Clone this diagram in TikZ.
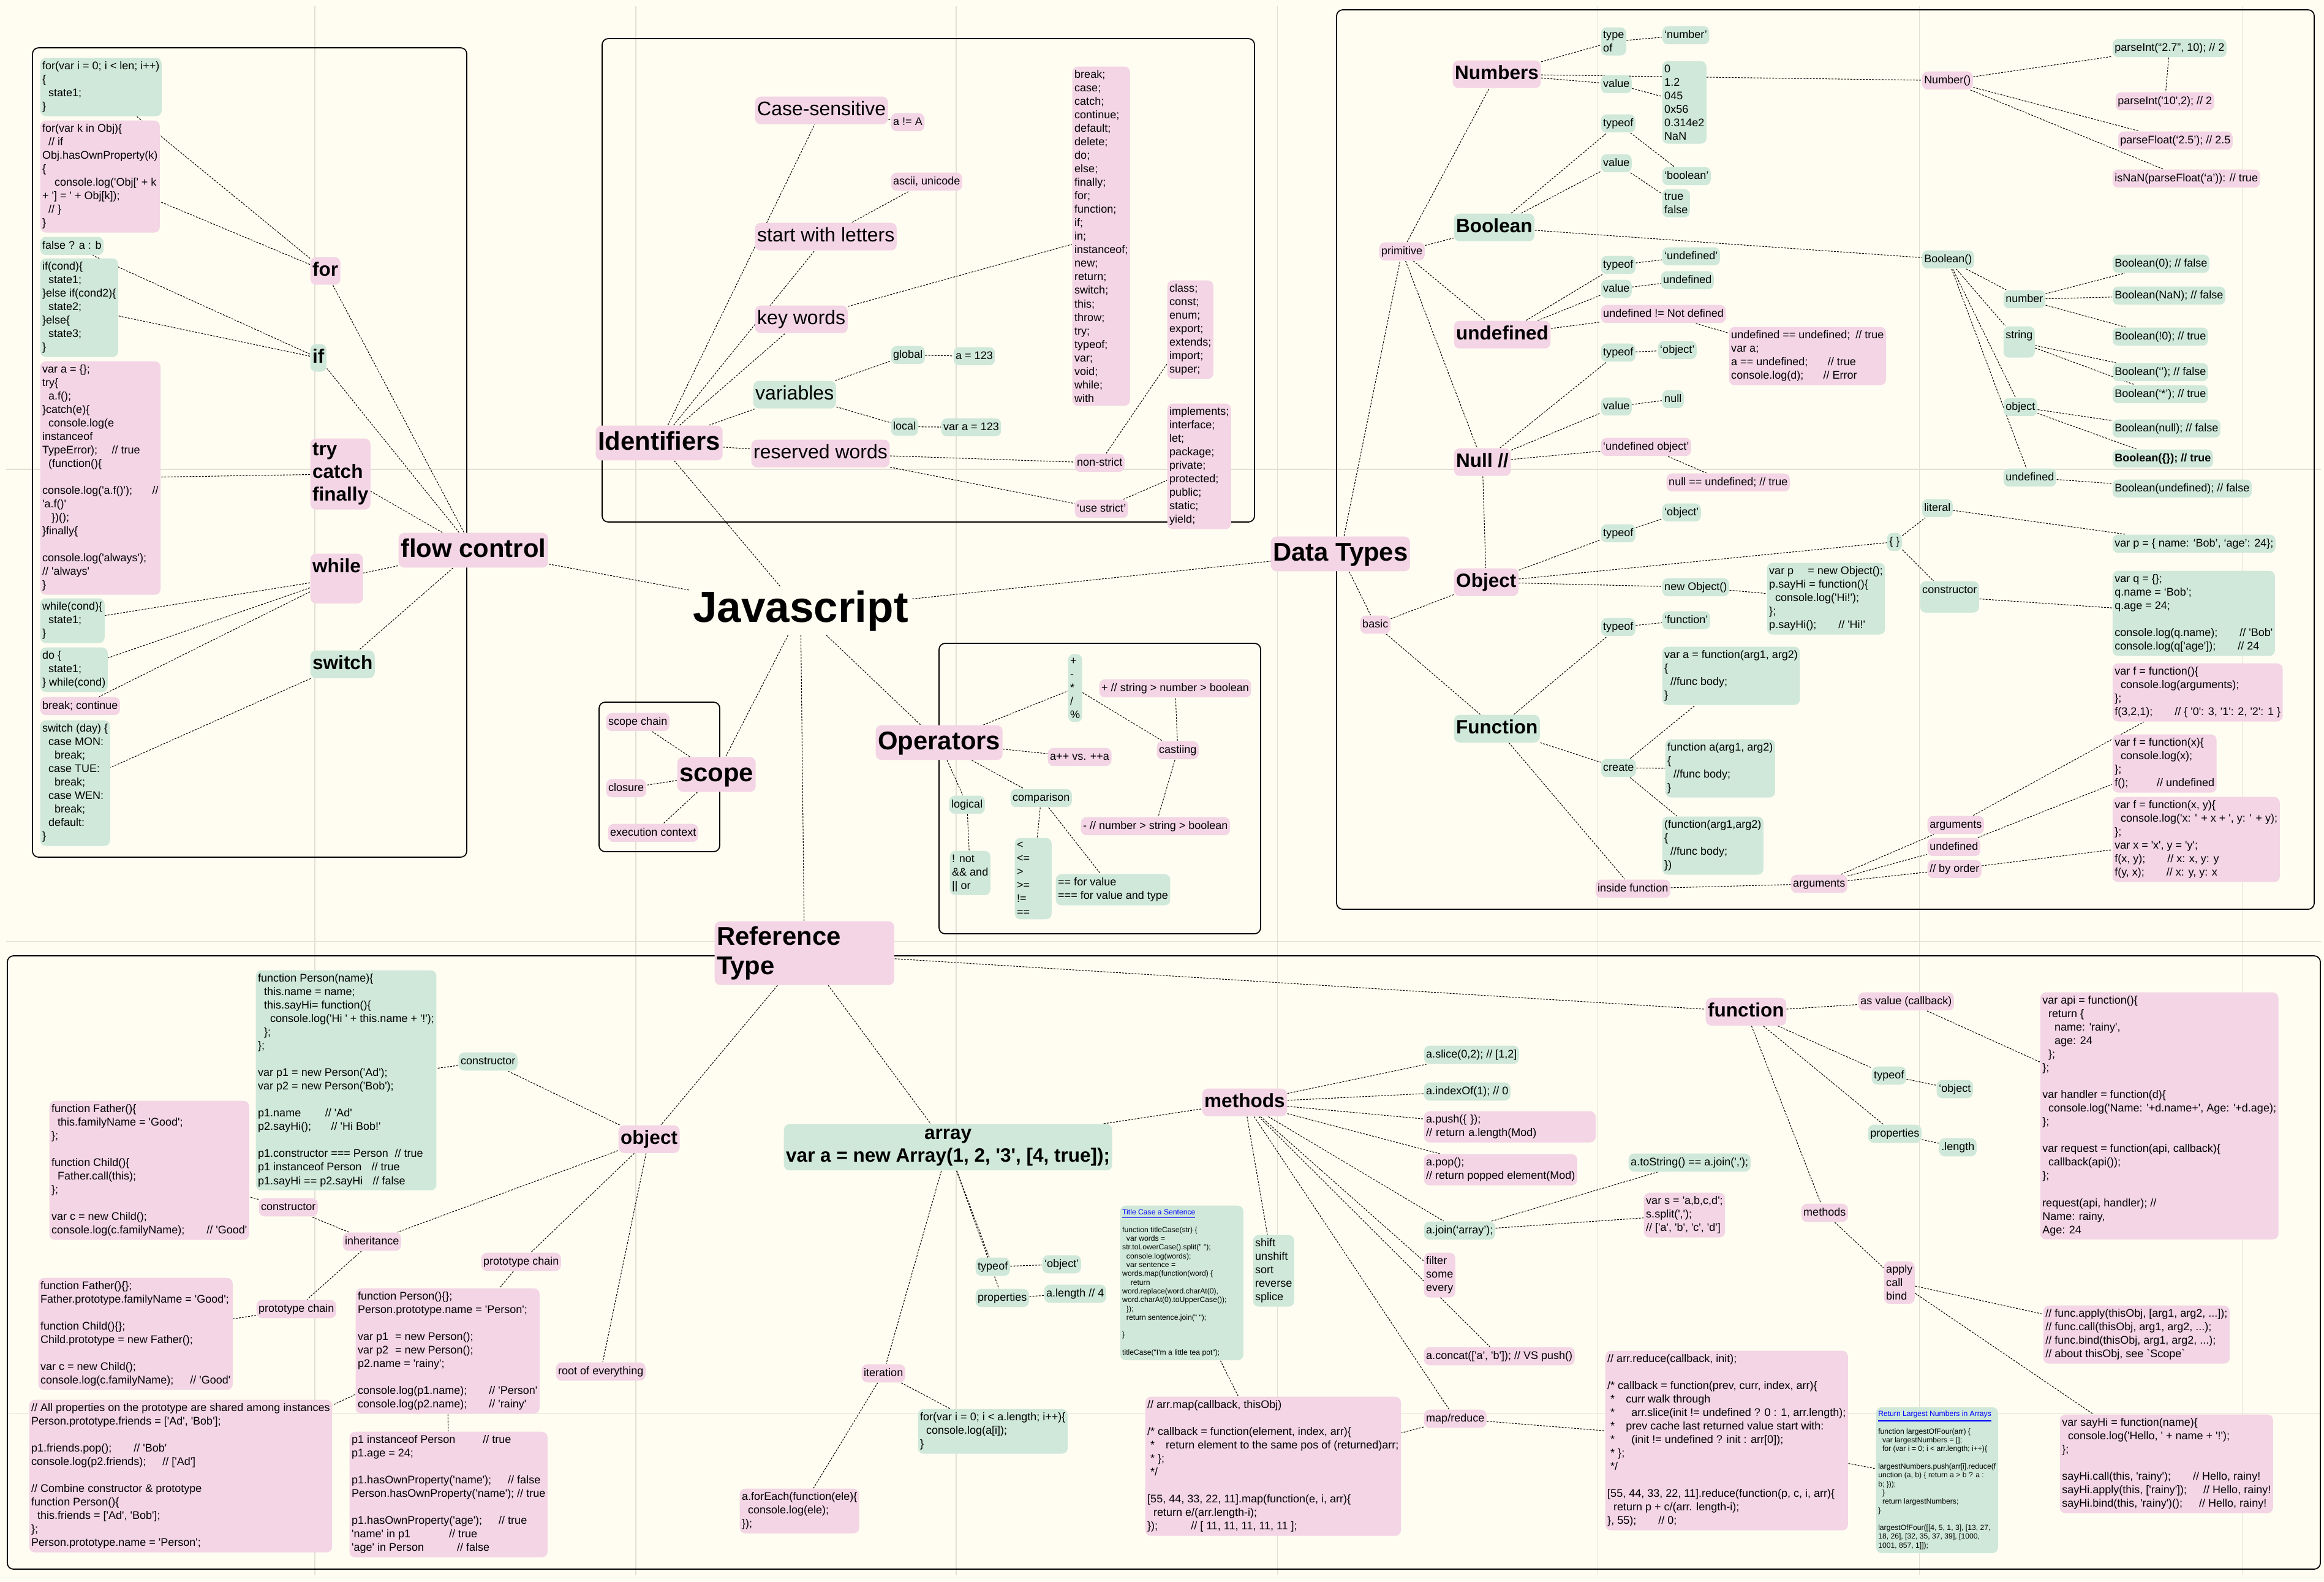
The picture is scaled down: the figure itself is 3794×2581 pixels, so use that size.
\documentclass[tikz,border=0pt]{standalone}
\usepackage{fontspec}
\newfontfamily\hv{Liberation Sans}
\definecolor{pinkc}{RGB}{243,213,229}
\definecolor{greenc}{RGB}{207,232,218}
\definecolor{paper}{RGB}{255,253,241}
\definecolor{gridc}{RGB}{226,224,212}
\newcommand\fsm{\hv\fontsize{5.12}{6.26}\selectfont}
\newcommand\fmd{\hv\fontsize{9.1}{10.6}\selectfont}
\newcommand\fhb{\hv\bfseries\fontsize{8.96}{10.5}\selectfont}
\newcommand\ftb{\hv\bfseries\fontsize{11.9}{13.9}\selectfont}
\newcommand\fjs{\hv\bfseries\fontsize{20.2}{24}\selectfont}
\newcommand\ftn{\hv\fontsize{3.46}{4.07}\selectfont}
\newcommand\idt{\hspace*{0.55em}}
\newcommand\gap[1]{\hspace{#1em}}
\newcommand\bl{\mbox{}}
\pgfdeclarelayer{back}
\pgfdeclarelayer{edges}
\pgfsetlayers{back,edges,main}
\tikzset{
  box/.style = {anchor = north west, rounded corners = 0.09cm, inner xsep = 0.035cm, inner ysep = 0.06cm, align = left, font = \fsm},
  pk/.style = {box, fill = pinkc},
  gn/.style = {box, fill = greenc},
  sl/.style = {text height = 0.135cm, text depth = 0.04cm},
  md/.style = {font = \fmd, text height = 0.24cm, text depth = 0.07cm, inner ysep = 0.07cm},
  hb/.style = {font = \fhb, inner ysep = 0.075cm},
  hbl/.style = {hb, text height = 0.236cm, text depth = 0.07cm, inner ysep = 0.072cm},
  tb/.style = {font = \ftb, inner ysep = 0.08cm},
  tbl/.style = {tb, text height = 0.315cm, text depth = 0.09cm},
  tn/.style = {font = \ftn},
  ln/.style = {line width = 0.3pt, dash pattern = on 0.85pt off 0.6pt, black},
  zone/.style = {line width = 0.5pt, rounded corners = 0.1cm}
}
\begin{document}
\begin{tikzpicture}[x = 0.01cm, y = -0.01cm]
\begin{pgfonlayer}{back}
\fill[paper] (0,0) rectangle (3794,2581);
\foreach \gx in {514,1038,1561,2085,2608,3133,3660} \draw[gridc, line width = 0.3pt] (\gx,10) -- (\gx,2571);
\foreach \gy in {766,1536,2306} \draw[gridc, line width = 0.3pt] (10,\gy) -- (3789,\gy);
\end{pgfonlayer}

\node[font = \fjs, inner sep = 0.06cm, anchor = base] (js) at (1307,1015) {Javascript};

\node[pk, tbl] (fc) at (650,869) {flow control};
\node[pk, hbl] (nfor) at (506,419) {for};
\node[gn, hbl] (nif) at (506,561) {if};
\node[pk, hb] (ntry) at (506,715) {try\\catch\\finally};
\node[pk, hbl, text depth = 0.43cm] (nwhile) at (506,903) {while};
\node[gn, hbl] (nswitch) at (506,1061) {switch};
\node[gn] (for1) at (65,94) {for(var i = 0; i < len; i++)\\\{\\\idt state1;\\\}};
\node[pk] (forin) at (65,196) {for(var k in Obj)\{\\\idt // if\\Obj.hasOwnProperty(k)\\\{\\\idt\idt console.log('Obj[' + k\\+ '] = ' + Obj[k]);\\\idt // \}\\\}};
\node[gn, sl] (tern) at (65,386) {false ? a : b};
\node[gn] (ifel) at (65,421) {if(cond)\{\\\idt state1;\\\}else if(cond2)\{\\\idt state2;\\\}else\{\\\idt state3;\\\}};
\node[pk] (tryb) at (65,589) {var a = \{\};\\try\{\\\idt a.f();\\\}catch(e)\{\\\idt console.log(e\\instanceof\\TypeError);\gap{1.3}// true\\\idt (function()\{\\\bl\\console.log('a.f()');\gap{1.8}//\\'a.f()'\\\idt\ \})();\\\}finally\{\\\bl\\console.log('always');\\// 'always'\\\}};
\node[gn] (whileb) at (65,976) {while(cond)\{\\\idt state1;\\\}};
\node[gn] (dowh) at (65,1056) {do \{\\\idt state1;\\\} while(cond)};
\node[pk, sl] (brk) at (65,1137) {break; continue};
\node[gn] (swb) at (65,1175) {switch (day) \{\\\idt case MON:\\\idt\idt break;\\\idt case TUE:\\\idt\idt break;\\\idt case WEN:\\\idt\idt break;\\\idt default:\\\}};

\node[pk, tbl] (idf) at (972,694) {Identifiers};
\node[pk, md] (cs) at (1232,157) {Case-sensitive};
\node[pk, sl] (csa) at (1454,184) {a != A};
\node[pk, md] (swl) at (1232,363) {start with letters};
\node[pk, sl] (asc) at (1454,281) {ascii, unicode};
\node[pk, md] (kw) at (1232,498) {key words};
\node[pk] (kwl) at (1750,108) {break;\\case;\\catch;\\continue;\\default;\\delete;\\do;\\else;\\finally;\\for;\\function;\\if;\\in;\\instanceof;\\new;\\return;\\switch;\\this;\\throw;\\try;\\typeof;\\var;\\void;\\while;\\with};
\node[gn, md] (vars) at (1229,621) {variables};
\node[gn, sl] (glb) at (1454,564) {global};
\node[gn, sl] (glbv) at (1556,566) {a = 123};
\node[gn, sl] (loc) at (1454,681) {local};
\node[gn, sl] (locv) at (1536,682) {var a = 123};
\node[pk, md] (rw) at (1226,717) {reserved words};
\node[pk, sl] (nst) at (1754,740) {non-strict};
\node[pk, sl] (ust) at (1754,815) {‘use strict’};
\node[pk] (rs1) at (1905,457) {class;\\const;\\enum;\\export;\\extends;\\import;\\super;};
\node[pk] (rs2) at (1905,658) {implements;\\interface;\\let;\\package;\\private;\\protected;\\public;\\static;\\yield;};

\node[pk, tbl] (dt) at (2074,875) {Data Types};
\node[pk, sl] (prim) at (2251,395) {primitive};
\node[pk, hbl] (num) at (2371,98) {Numbers};
\node[gn] (ntyp) at (2613,44) {type\\of};
\node[gn, sl] (ntypv) at (2713,42) {‘number’};
\node[gn, sl] (nval) at (2613,122) {value};
\node[gn] (nvals) at (2713,99) {0\\1.2\\045\\0x56\\0.314e2\\NaN};
\node[pk, sl] (numf) at (3137,116) {Number()};
\node[gn, sl] (pi1) at (3448,63) {parseInt(“2.7”, 10); // 2};
\node[pk, sl] (pi2) at (3453,150) {parseInt('10',2); // 2};
\node[pk, sl] (pf) at (3457,214) {parseFloat(‘2.5’); // 2.5};
\node[pk, sl] (isn) at (3448,276) {isNaN(parseFloat(‘a’)): // true};
\node[gn, hbl] (bool) at (2373,348) {Boolean};
\node[gn, sl] (btyp) at (2613,186) {typeof};
\node[gn, sl] (bval) at (2613,251) {value};
\node[gn, sl] (btypv) at (2713,272) {‘boolean’};
\node[gn] (bvals) at (2713,308) {true\\false};
\node[gn, sl] (boolf) at (3137,408) {Boolean()};
\node[gn, sl] (bnum) at (3270,473) {number};
\node[gn, sl, text depth = 0.255cm] (bstr) at (3270,532) {string};
\node[gn, sl] (bobj) at (3270,649) {object};
\node[gn, sl] (bund) at (3270,764) {undefined};
\node[gn, sl] (b0) at (3448,415) {Boolean(0); // false};
\node[gn, sl] (bnan) at (3448,467) {Boolean(NaN); // false};
\node[gn, sl] (bn0) at (3448,534) {Boolean(!0); // true};
\node[gn, sl] (be) at (3448,592) {Boolean(‘’); // false};
\node[gn, sl] (bs) at (3448,628) {Boolean(‘*’); // true};
\node[gn, sl] (bnull) at (3448,684) {Boolean(null); // false};
\node[gn, sl] (bobjv) at (3448,733) {\textbf{Boolean(\{\}); // true}};
\node[gn, sl] (bundv) at (3448,782) {Boolean(undefined); // false};
\node[pk, hbl] (und) at (2373,523) {undefined};
\node[gn, sl] (utyp) at (2613,417) {typeof};
\node[gn, sl] (utypv) at (2713,403) {‘undefined’};
\node[gn, sl] (uval) at (2613,456) {value};
\node[gn, sl] (uvalv) at (2711,442) {undefined};
\node[pk, sl] (und2) at (2613,497) {undefined != Not defined};
\node[pk] (undc) at (2822,533) {undefined == undefined;\gap{0.5}// true\\var a;\\a == undefined;\gap{1.8}// true\\console.log(d);\gap{1.8}// Error};
\node[pk, hbl] (nul) at (2373,731) {Null //};
\node[gn, sl] (ntyp2) at (2613,560) {typeof};
\node[gn, sl] (ntypv2) at (2706,556) {‘object’};
\node[gn, sl] (nval2) at (2613,648) {value};
\node[gn, sl] (nvalv) at (2713,636) {null};
\node[pk, sl] (nuo) at (2613,714) {‘undefined object’};
\node[pk, sl] (nue) at (2720,772) {null == undefined; // true};
\node[pk, hbl] (obj) at (2373,927) {Object};
\node[gn, sl] (otyp) at (2613,855) {typeof};
\node[gn, sl] (otypv) at (2713,821) {‘object’};
\node[gn, sl] (onew) at (2713,943) {new Object()};
\node[gn] (onewb) at (2884,918) {var p\gap{1} = new Object();\\p.sayHi = function()\{\\\idt console.log('Hi!');\\\};\\p.sayHi();\gap{2}// 'Hi!'};
\node[gn, sl] (obr) at (3080,869) {\{ \}};
\node[gn, sl] (olit) at (3137,814) {literal};
\node[gn, sl] (olitb) at (3448,872) {var p = \{ name: ‘Bob’, ‘age’: 24\};};
\node[gn, sl, text depth = 0.255cm] (ocon) at (3134,948) {constructor};
\node[gn] (oconb) at (3448,931) {var q = \{\};\\q.name = ‘Bob’;\\q.age = 24;\\\bl\\console.log(q.name);\gap{2}// 'Bob'\\console.log(q['age']);\gap{2}// 24};
\node[pk, sl] (basic) at (2220,1004) {basic};
\node[gn, hbl] (fun) at (2373,1166) {Function};
\node[gn, sl] (ftyp) at (2613,1008) {typeof};
\node[gn, sl] (ftypv) at (2713,997) {‘function’};
\node[gn, sl] (fcr) at (2613,1238) {create};
\node[gn] (fcr1) at (2713,1055) {var a = function(arg1, arg2)\\\{\\\idt //func body;\\\}};
\node[gn] (fcr2) at (2718,1206) {function a(arg1, arg2)\\\{\\\idt //func body;\\\}};
\node[gn] (fcr3) at (2713,1332) {(function(arg1,arg2)\\\{\\\idt //func body;\\\})};
\node[pk, sl] (fin) at (2604,1435) {inside function};
\node[pk, sl] (farg) at (2923,1427) {arguments};
\node[pk, sl] (fa1) at (3146,1331) {arguments};
\node[pk, sl] (fa2) at (3146,1367) {undefined};
\node[pk, sl] (fa3) at (3146,1403) {// by order};
\node[pk] (fab1) at (3448,1082) {var f = function()\{\\\idt console.log(arguments);\\\};\\f(3,2,1);\gap{2}// \{ '0': 3, '1': 2, '2': 1 \}};
\node[pk] (fab2) at (3448,1198) {var f = function(x)\{\\\idt console.log(x);\\\};\\f();\gap{2.6}// undefined};
\node[pk] (fab3) at (3448,1300) {var f = function(x, y)\{\\\idt console.log('x: ' + x + ', y: ' + y);\\\};\\var x = 'x', y = 'y';\\f(x, y);\gap{2}// x: x, y: y\\f(y, x);\gap{2}// x: y, y: x};

\node[pk, tbl] (scope) at (1105,1235) {scope};
\node[pk, sl] (sch) at (989,1163) {scope chain};
\node[pk, sl] (clo) at (989,1271) {closure};
\node[pk, sl] (exc) at (992,1344) {execution context};

\node[pk, tbl] (ops) at (1429,1183) {Operators};
\node[gn] (opl) at (1743,1067) {+\\-\\{}*\\/\\\%};
\node[pk, sl] (opstr) at (1794,1108) {+ // string > number > boolean};
\node[pk, sl] (opinc) at (1710,1220) {a++ vs. ++a};
\node[pk, sl] (opcast) at (1888,1209) {castiing};
\node[pk, sl] (opnum) at (1764,1333) {- // number > string > boolean};
\node[gn, sl] (oplog) at (1549,1298) {logical};
\node[gn, sl] (opcmp) at (1649,1287) {comparison};
\node[gn] (oplogl) at (1550,1388) {! not\\\&\& and\\|| or};
\node[gn, text width = 0.53cm] (opcmpl) at (1656,1367) {<\\<=\\>\\>=\\!=\\==};
\node[gn] (opeq) at (1723,1426) {== for value\\=== for value and type};

\node[pk, tb, text width = 2.86cm] (rt) at (1166,1503) {Reference\\Type};
\node[pk, hbl] (robj) at (1009,1836) {object};
\node[gn, sl] (rcon) at (748,1717) {constructor};
\node[gn] (rconb) at (417,1583) {function Person(name)\{\\\idt this.name = name;\\\idt this.sayHi= function()\{\\\idt\idt console.log('Hi ' + this.name + '!');\\\idt \};\\\};\\\bl\\var p1 = new Person('Ad');\\var p2 = new Person('Bob');\\\bl\\p1.name\gap{2.2}// 'Ad'\\p2.sayHi();\gap{1.8}// 'Hi Bob!'\\\bl\\p1.constructor === Person\gap{0.6}// true\\p1 instanceof Person\gap{0.9}// true\\p1.sayHi == p2.sayHi\gap{0.9}// false};
\node[pk, sl] (rinh) at (559,2011) {inheritance};
\node[pk, sl] (rcon2) at (422,1955) {constructor};
\node[pk] (rfat) at (80,1796) {function Father()\{\\\idt this.familyName = 'Good';\\\};\\\bl\\function Child()\{\\\idt Father.call(this);\\\};\\\bl\\var c = new Child();\\console.log(c.familyName);\gap{2}// 'Good'};
\node[pk, sl] (rpc1) at (418,2121) {prototype chain};
\node[pk] (rfatp) at (62,2085) {function Father()\{\};\\Father.prototype.familyName = 'Good';\\\bl\\function Child()\{\};\\Child.prototype = new Father();\\\bl\\var c = new Child();\\console.log(c.familyName);\gap{1.5}// 'Good'};
\node[pk, sl] (rpc2) at (785,2044) {prototype chain};
\node[pk] (rper) at (580,2102) {function Person()\{\};\\Person.prototype.name = 'Person';\\\bl\\var p1\gap{0.6}= new Person();\\var p2\gap{0.6}= new Person();\\p2.name = 'rainy';\\\bl\\console.log(p1.name);\gap{2}// 'Person'\\console.log(p2.name);\gap{2}// 'rainy'};
\node[pk] (rall) at (47,2284) {// All properties on the prototype are shared among instances\\Person.prototype.friends = ['Ad', 'Bob'];\\\bl\\p1.friends.pop();\gap{2}// 'Bob'\\console.log(p2.friends);\gap{1.5}// ['Ad']\\\bl\\// Combine constructor \& prototype\\function Person()\{\\\idt this.friends = ['Ad', 'Bob'];\\\};\\Person.prototype.name = 'Person';};
\node[pk] (rins) at (570,2336) {p1 instanceof Person\gap{2.5}// true\\p1.age = 24;\\\bl\\p1.hasOwnProperty('name');\gap{1.5}// false\\Person.hasOwnProperty('name');\ // true\\\bl\\p1.hasOwnProperty('age');\gap{1.5}// true\\'name' in p1\gap{3.5}// true\\'age' in Person\gap{3}// false};
\node[pk, sl] (rroot) at (907,2223) {root of everything};

\node[gn, hb, align = center] (arr) at (1279,1834) {array\\var a = new Array(1, 2, '3', [4, true]);};
\node[gn, sl] (atyp) at (1592,2052) {typeof};
\node[gn, sl] (atypv) at (1701,2048) {‘object’};
\node[gn, sl] (aprp) at (1592,2103) {properties};
\node[gn, sl] (alen) at (1704,2096) {a.length // 4};
\node[pk, sl] (aitr) at (1406,2226) {iteration};
\node[gn] (afor) at (1498,2299) {for(var i = 0; i < a.length; i++)\{\\\idt console.log(a[i]);\\\}};
\node[pk] (afe) at (1207,2429) {a.forEach(function(ele)\{\\\idt console.log(ele);\\\});};
\node[gn, tn] (atc) at (1828,1967) {\textcolor{blue}{\underline{Title Case a Sentence}}\\\bl\\function titleCase(str) \{\\\ \ var words =\\str.toLowerCase().split(" ");\\\ \ console.log(words);\\\ \ var sentence =\\words.map(function(word) \{\\\ \ \ \ return\\word.replace(word.charAt(0),\\word.charAt(0).toUpperCase());\\\ \ \});\\\ \ return sentence.join(" ");\\\bl\\\}\\\bl\\titleCase("I'm a little tea pot");\hspace*{0.35cm}};
\node[pk, hbl] (mth) at (1962,1776) {methods};
\node[gn, sl] (msl) at (2324,1706) {a.slice(0,2); // [1,2]};
\node[gn, sl] (mio) at (2324,1766) {a.indexOf(1); // 0};
\node[pk, text width = 2.73cm] (mpu) at (2324,1813) {a.push(\{ \});\\// return a.length(Mod)};
\node[pk] (mpo) at (2324,1883) {a.pop();\\// return popped element(Mod)};
\node[gn, sl] (mts) at (2658,1882) {a.toString() == a.join(',');};
\node[pk] (msp) at (2683,1946) {var s = 'a,b,c,d';\\s.split(',');\\// ['a', 'b', 'c', 'd']};
\node[gn, sl] (mjo) at (2324,1993) {a.join(‘array’);};
\node[gn] (msh) at (2045,2015) {shift\\unshift\\sort\\reverse\\splice};
\node[pk] (mfi) at (2324,2044) {filter\\some\\every};
\node[pk, sl] (mco) at (2324,2198) {a.concat(['a', 'b']); // VS push()};
\node[pk, sl] (mmr) at (2324,2300) {map/reduce};
\node[pk] (mmap) at (1869,2279) {// arr.map(callback, thisObj)\\\bl\\/* callback = function(element, index, arr)\{\\\ *\gap{1}return element to the same pos of (returned)arr;\\\ * \};\\\ */\\\bl\\{}[55, 44, 33, 22, 11].map(function(e, i, arr)\{\\\idt return e/(arr.length-i);\\\});\gap{3}// [ 11, 11, 11, 11, 11 ];};
\node[pk] (mred) at (2620,2204) {// arr.reduce(callback, init);\\\bl\\/* callback = function(prev, curr, index, arr)\{\\\ *\gap{1}curr walk through\\\ *\gap{1.5}arr.slice(init != undefined ? 0 : 1, arr.length);\\\ *\gap{1}prev cache last returned value start with:\\\ *\gap{1.5}(init != undefined ? init : arr[0]);\\\ * \};\\\ */\\\bl\\{}[55, 44, 33, 22, 11].reduce(function(p, c, i, arr)\{\\\idt return p + c/(arr. length-i);\\\}, 55);\gap{2}// 0;};
\node[pk, hbl] (rfn) at (2784,1628) {function};
\node[pk, sl] (fval) at (3033,1619) {as value (callback)};
\node[pk] (fapi) at (3330,1619) {var api = function()\{\\\idt return \{\\\idt\idt name: 'rainy',\\\idt\idt age: 24\\\idt \};\\\};\\\bl\\var handler = function(d)\{\\\idt console.log('Name: '+d.name+', Age: '+d.age);\\\};\\\bl\\var request = function(api, callback)\{\\\idt callback(api());\\\};\\\bl\\request(api, handler); //\\Name: rainy,\\Age: 24};
\node[gn, sl] (ftyp2) at (3055,1740) {typeof};
\node[gn, sl] (ftypv2) at (3161,1762) {‘object};
\node[gn, sl] (fprp) at (3049,1835) {properties};
\node[gn, sl] (flen) at (3165,1857) {.length};
\node[pk, sl] (fmth) at (2940,1964) {methods};
\node[pk] (fapl) at (3075,2058) {apply\\call\\bind};
\node[pk] (fapb) at (3335,2130) {// func.apply(thisObj, [arg1, arg2, ...]);\\// func.call(thisObj, arg1, arg2, ...);\\// func.bind(thisObj, arg1, arg2, ...);\\// about thisObj, see `Scope`};
\node[pk] (fsay) at (3362,2308) {var sayHi = function(name)\{\\\idt console.log('Hello, ' + name + '!');\\\};\\\bl\\sayHi.call(this, 'rainy');\gap{2}// Hello, rainy!\\sayHi.apply(this, ['rainy']);\gap{1.5}// Hello, rainy!\\sayHi.bind(this, 'rainy')();\gap{1.5}// Hello, rainy!};
\node[gn, tn] (flg) at (3062,2296) {\textcolor{blue}{\underline{Return Largest Numbers in Arrays}}\\\bl\\function largestOfFour(arr) \{\\\ \ var largestNumbers = [];\\\ \ for (var i = 0; i < arr.length; i++)\{\\\bl\\largestNumbers.push(arr[i].reduce(f\\unction (a, b) \{ return a > b ? a :\\b; \}));\\\ \ \}\\\ \ return largestNumbers;\\\}\\\bl\\largestOfFour([[4, 5, 1, 3], [13, 27,\\18, 26], [32, 35, 37, 39], [1000,\\1001, 857, 1]]);};

\begin{pgfonlayer}{edges}
\draw[zone] (53,78) rectangle (762,1399);
\draw[zone] (983,63) rectangle (2048,852);
\draw[zone] (2182,16) rectangle (3778,1484);
\draw[zone] (978,1146) rectangle (1175,1390);
\draw[zone] (1533,1050) rectangle (2058,1524);
\draw[zone] (12,1560) rectangle (3788,2561);
\foreach \src/\dst in {js/fc, js/idf, js/dt, js/ops, js/scope, js/rt,
  fc/nfor, fc/nif, fc/ntry, fc/nwhile, fc/nswitch, nfor/for1, nfor/forin, nif/tern, nif/ifel, ntry/tryb, nwhile/whileb, nwhile/dowh, nwhile/brk, nswitch/swb}
  \draw[ln] (\src) -- (\dst);
\foreach \src/\dst in {idf/cs, idf/swl, idf/kw, idf/vars, idf/rw, cs/csa, swl/asc, kw/kwl, vars/glb, vars/loc, glb/glbv, loc/locv, rw/nst, rw/ust, nst/rs1, ust/rs2}
  \draw[ln] (\src) -- (\dst);
\foreach \src/\dst in {dt/prim, dt/basic, prim/num, prim/bool, prim/und, prim/nul, num/ntyp, num/nval, num/numf, ntyp/ntypv, nval/nvals, numf/pi1, pi1/pi2, numf/pf, numf/isn,
  bool/btyp, bool/bval, btyp/btypv, bval/bvals, bool/boolf, boolf/bnum, boolf/bstr, boolf/bobj, boolf/bund, bnum/b0, bnum/bnan, bnum/bn0, bstr/be, bstr/bs, bobj/bnull, bobj/bobjv, bund/bundv}
  \draw[ln] (\src) -- (\dst);
\foreach \src/\dst in {und/utyp, und/uval, utyp/utypv, uval/uvalv, und/und2, und2/undc, nul/ntyp2, nul/nval2, ntyp2/ntypv2, nval2/nvalv, nul/nuo, nuo/nue, nul/obj,
  basic/obj, basic/fun, obj/otyp, otyp/otypv, obj/onew, onew/onewb, obj/obr, obr/olit, olit/olitb, obr/ocon, ocon/oconb,
  fun/ftyp, ftyp/ftypv, fun/fcr, fcr/fcr1, fcr/fcr2, fcr/fcr3, fun/fin, fin/farg, farg/fa1, farg/fa2, farg/fa3, fa1/fab1, fa2/fab2, fa3/fab3}
  \draw[ln] (\src) -- (\dst);
\foreach \src/\dst in {scope/sch, scope/clo, scope/exc, ops/opl, opl/opcast, opcast/opstr, opcast/opnum, ops/opinc, ops/oplog, oplog/oplogl, ops/opcmp, opcmp/opcmpl, opcmp/opeq}
  \draw[ln] (\src) -- (\dst);
\foreach \src/\dst in {rt/robj, rt/arr, rt/rfn, robj/rcon, rcon/rconb, robj/rinh, rinh/rcon2, rcon2/rfat, rinh/rpc1, rpc1/rfatp, robj/rpc2, rpc2/rper, rper/rall, rper/rins, robj/rroot,
  arr/atyp, arr/aprp, atyp/atypv, aprp/alen, arr/aitr, aitr/afor, aitr/afe, arr/mth, mth/msl, mth/mio, mth/mpu, mth/mpo, mth/mjo, mth/mfi, mth/mco, mth/msh, mth/mmr, mjo/mts, mjo/msp, mmr/mmap, mmr/mred, atc/mmap, mred/flg,
  rfn/fval, fval/fapi, rfn/ftyp2, ftyp2/ftypv2, rfn/fprp, fprp/flen, rfn/fmth, fmth/fapl, fapl/fapb, fapl/fsay}
  \draw[ln] (\src) -- (\dst);
\end{pgfonlayer}
\end{tikzpicture}
\end{document}
